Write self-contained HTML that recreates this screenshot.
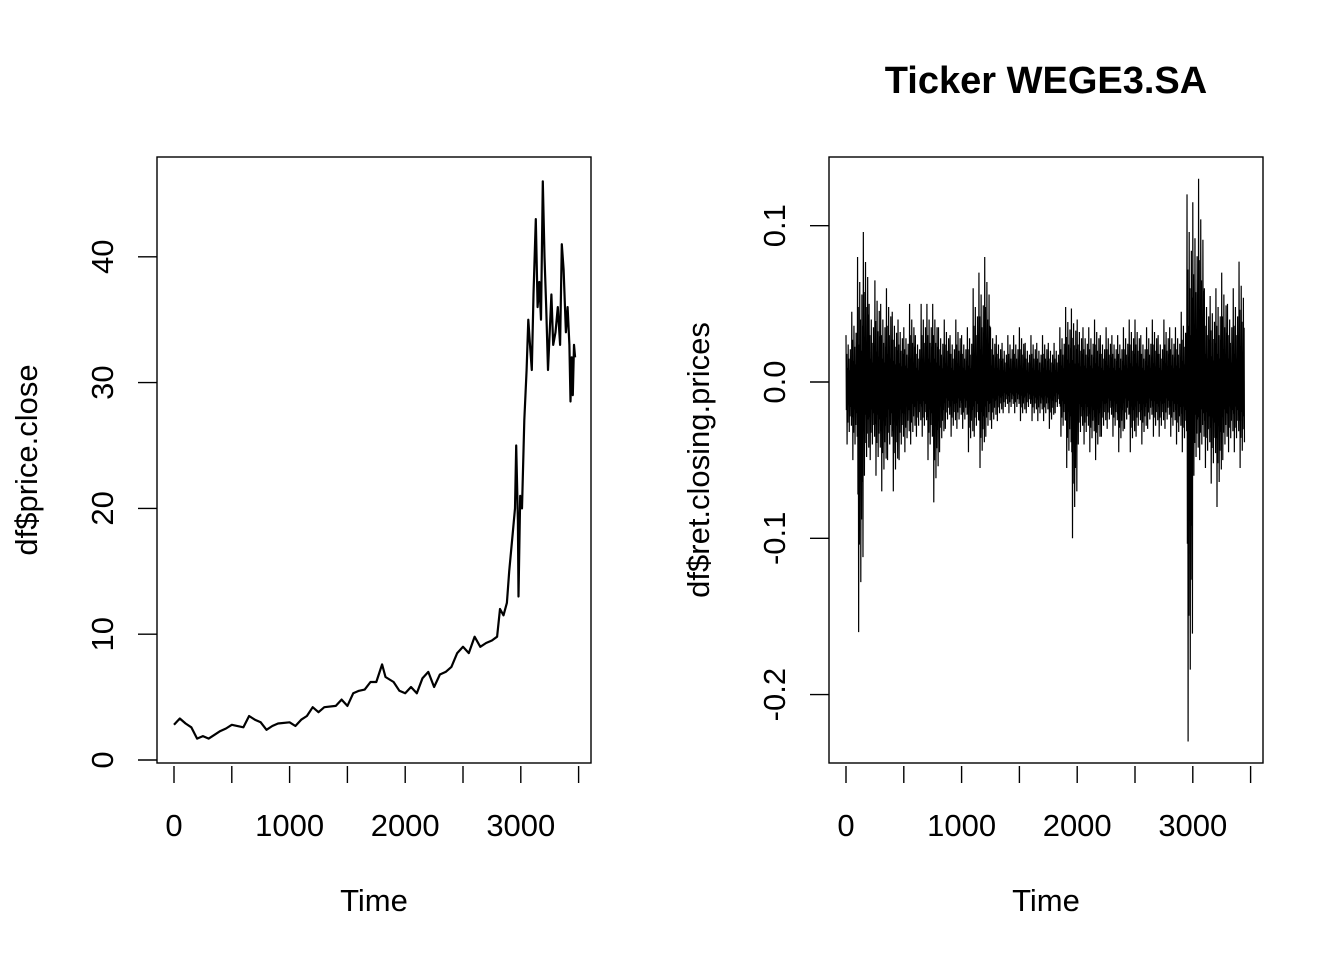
<!DOCTYPE html>
<html><head><meta charset="utf-8"><style>
html,body{margin:0;padding:0;background:#fff;}
svg{display:block;font-family:"Liberation Sans",Arial,sans-serif;}
</style></head><body>
<svg id="chart" width="1344" height="960" viewBox="0 0 1344 960">
<rect x="0" y="0" width="1344" height="960" fill="#fff"/>
<g id="left"></g>
<g id="right"></g>
<text x="1046" y="93" text-anchor="middle" font-size="38" font-weight="bold">Ticker WEGE3.SA</text>
</svg>
<script>
const priceTimes=[0,50,100,150,200,250,300,350,400,450,500,600,650,700,750,800,850,900,1000,1050,1100,1150,1200,1250,1300,1400,1450,1500,1550,1600,1650,1700,1750,1800,1830,1900,1950,2000,2050,2100,2150,2200,2250,2300,2350,2400,2450,2500,2550,2600,2650,2700,2750,2795,2820,2850,2880,2900,2930,2950,2960,2975,2980,2995,3010,3030,3050,3065,3080,3095,3110,3130,3145,3160,3175,3190,3205,3220,3235,3250,3265,3280,3300,3320,3340,3355,3370,3390,3405,3420,3430,3440,3450,3460,3470];
const priceValues=[2.8,3.3,2.9,2.6,1.7,1.9,1.7,2.0,2.3,2.5,2.8,2.6,3.5,3.2,3.0,2.4,2.7,2.9,3.0,2.7,3.2,3.5,4.2,3.8,4.2,4.3,4.8,4.3,5.3,5.5,5.6,6.2,6.2,7.6,6.6,6.2,5.5,5.3,5.8,5.3,6.5,7.0,5.8,6.8,7.0,7.4,8.5,9.0,8.5,9.8,9.0,9.3,9.5,9.8,12,11.5,12.5,15,18,20,25,19,13,21,20,27,31,35,33,31,37,43,36,38,35,46,40,36,31,34,37,33,34,36,33,41,39,34,36,33,28.5,32,29,33,32];
const retBucketStart=[0,50,100,150,200,250,300,350,400,450,500,550,600,650,700,750,800,850,900,950,1000,1050,1100,1150,1200,1250,1300,1350,1400,1450,1500,1550,1600,1650,1700,1750,1800,1850,1900,1950,2000,2050,2100,2150,2200,2250,2300,2350,2400,2450,2500,2550,2600,2650,2700,2750,2800,2850,2900,2950,3000,3050,3100,3150,3200,3250,3300,3350,3400];
const retHigh=[.03,.045,.08,.096,.05,.065,.05,.06,.045,.04,.035,.05,.03,.05,.05,.05,.035,.04,.03,.04,.03,.035,.06,.07,.08,.035,.03,.025,.03,.03,.035,.025,.03,.025,.03,.025,.025,.035,.048,.047,.04,.035,.035,.04,.03,.035,.03,.03,.035,.04,.04,.03,.035,.04,.03,.04,.035,.035,.045,.12,.115,.13,.06,.055,.06,.07,.05,.06,.077];
const retLow=[-.04,-.05,-.16,-.06,-.05,-.06,-.07,-.05,-.07,-.05,-.045,-.04,-.035,-.035,-.05,-.077,-.045,-.03,-.035,-.03,-.03,-.045,-.035,-.055,-.035,-.03,-.025,-.02,-.02,-.02,-.025,-.02,-.025,-.025,-.025,-.03,-.02,-.035,-.055,-.10,-.04,-.04,-.045,-.05,-.035,-.03,-.035,-.045,-.03,-.045,-.035,-.04,-.03,-.035,-.035,-.03,-.035,-.04,-.045,-.23,-.06,-.05,-.055,-.065,-.08,-.05,-.045,-.045,-.055];
const xTicks=[0,500,1000,1500,2000,2500,3000,3500];
const xTickLabels=["0","","1000","","2000","","3000",""];
const priceTicks=[0,10,20,30,40];
const retTicks=[-0.2,-0.1,0.0,0.1];
const retTickLabels=["-0.2","-0.1","0.0","0.1"];

const NS="http://www.w3.org/2000/svg";
function mk(parent,tag,attrs){const e=document.createElementNS(NS,tag);for(const k in attrs)e.setAttribute(k,attrs[k]);parent.appendChild(e);return e;}

function drawPanel(g,box,xs,ys,yTicks,yLabels,yTitle,prefix){
  const r=mk(g,'rect',{x:box.x0,y:box.y0,width:box.x1-box.x0,height:box.y1-box.y0,fill:'none',stroke:'#000','stroke-width':1.4});
  
  
  xTicks.forEach((t,i)=>{
    const l=mk(g,'line',{x1:xs(t),x2:xs(t),y1:box.y1+3,y2:box.y1+20,stroke:'#000','stroke-width':1.4});
    
    
    if(xTickLabels[i]){
      const tx=mk(g,'text',{x:xs(t),y:836,'text-anchor':'middle','font-size':31});
      tx.textContent=xTickLabels[i];
      
      
    }
  });
  yTicks.forEach((v,i)=>{
    const l=mk(g,'line',{x1:box.x0-19,x2:box.x0,y1:ys(v),y2:ys(v),stroke:'#000','stroke-width':1.4});
    
    
    const x=box.x0-44;
    const tx=mk(g,'text',{x:x,y:ys(v),'text-anchor':'middle','font-size':31,transform:`rotate(-90 ${x} ${ys(v)})`});
    tx.textContent=yLabels[i];
    
    
  });
  const xt=mk(g,'text',{x:(box.x0+box.x1)/2,y:911,'text-anchor':'middle','font-size':31});
  xt.textContent='Time';
  
  
  const yx=box.x0-120, yy=(box.y0+box.y1)/2;
  const yt=mk(g,'text',{x:yx,y:yy,'text-anchor':'middle','font-size':31,transform:`rotate(-90 ${yx} ${yy})`});
  yt.textContent=yTitle;
  
  
}

// Left panel
const L={x0:157,x1:591,y0:157,y1:763};
const lx=t=>174+t*0.1156;
const ly=v=>760-v*12.58;
const lg=document.getElementById('left');
drawPanel(lg,L,lx,ly,priceTicks,priceTicks.map(String),'df$price.close','price');
const pp=priceTimes.map((t,i)=>lx(t).toFixed(1)+','+ly(priceValues[i]).toFixed(1)).join(' ');
const pl=mk(lg,'polyline',{points:pp,fill:'none',stroke:'#000','stroke-width':2.2,'stroke-linejoin':'round'});



// Right panel
const R={x0:829,x1:1263,y0:157,y1:763};
const rx=t=>846+t*0.1156;
const ry=v=>382-v*1563;
const rg=document.getElementById('right');
drawPanel(rg,R,rx,ry,retTicks,retTickLabels,'df$ret.closing.prices','returns');
const pat=[1,-0.45,0.6,-1,0.3,-0.65,0.8,-0.35,0.5,-0.8,0.25,-0.55,0.7,-0.4,0.45,-0.7];
let pts=[];
retBucketStart.forEach((t,i)=>{
  const n=pat.length;
  for(let k=0;k<n;k++){
    const f=pat[k];
    const v=f>0?retHigh[i]*f:retLow[i]*(-f);
    pts.push(rx(t+50*k/n).toFixed(2)+','+ry(v).toFixed(1));
  }
});
const rl=mk(rg,'polyline',{points:pts.join(' '),fill:'none',stroke:'#000','stroke-width':1.2});


</script>
</body></html>
